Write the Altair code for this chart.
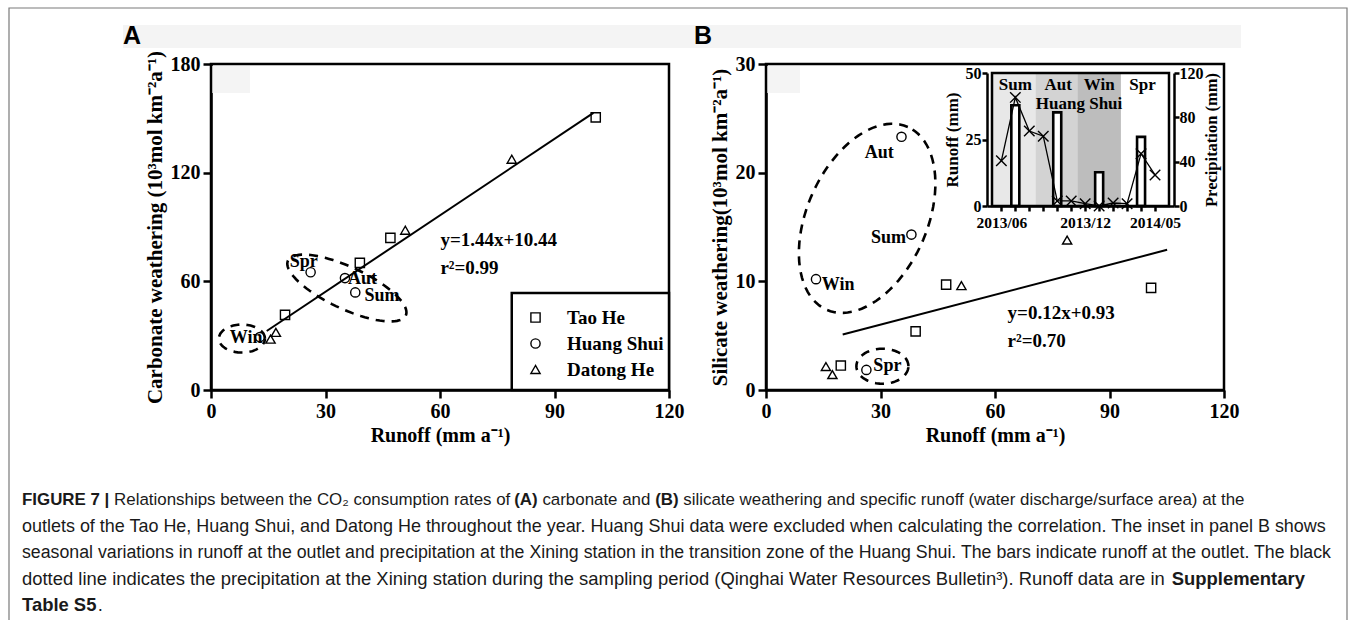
import altair as alt
import numpy as np
import pandas as pd

SERIF = "Liberation Serif"
SANS = "Liberation Sans"

# ---------------- data ----------------
rivers = ["Tao He", "Huang Shui", "Datong He"]
hs_seasons = ["Spr", "Aut", "Sum", "Win"]

# Panel A: carbonate weathering vs runoff
a_tao_runoff = [100.8, 47.0, 39.0, 19.4]
a_tao_carb = [150.5, 84.0, 70.2, 41.5]
a_hs_runoff = [26.1, 35.1, 37.8, 12.8]      # Spr, Aut, Sum, Win
a_hs_carb = [65.0, 61.8, 53.9, 29.2]
a_dt_runoff = [78.8, 50.9, 15.6, 17.0]
a_dt_carb = [127.4, 88.2, 28.1, 31.8]
a_fit_runoff = [14.6, 100.2]
a_fit_carb = [32.6, 153.0]
a_label_x = [24.3, 39.7, 44.8, 9.2]
a_label_y = [70.5, 61.3, 52.1, 28.6]
a_eq_text = ["y=1.44x+10.44", "r²=0.99"]
a_eq_x = [60.1, 60.1]
a_eq_y = [82.8, 67.4]
a_ell_cx = [35.6, 8.1]
a_ell_cy = [56.3, 28.4]
a_ell_rmaj = [65, 23]
a_ell_rmin = [21, 14]
a_ell_angle = [-25, 0]
a_legend_box = [78.8, 120, 0, 53.6]

# Panel B: silicate weathering vs runoff
b_tao_runoff = [100.9, 47.2, 39.2, 19.6]
b_tao_sil = [9.4, 9.7, 5.4, 2.25]
b_hs_runoff = [26.3, 35.5, 38.1, 13.1]      # Spr, Aut, Sum, Win
b_hs_sil = [1.85, 23.3, 14.3, 10.2]
b_dt_runoff = [78.9, 51.2, 15.7, 17.4]
b_dt_sil = [13.8, 9.6, 2.16, 1.42]
b_fit_runoff = [20.1, 105.1]
b_fit_sil = [5.1, 12.9]
b_label_x = [31.8, 29.7, 32.1, 18.9]
b_label_y = [2.2, 21.8, 14.0, 9.65]
b_eq_text = ["y=0.12x+0.93", "r²=0.70"]
b_eq_x = [63.3, 63.3]
b_eq_y = [7.1, 4.5]
b_ell_cx = [26.5, 30.5]
b_ell_cy = [15.8, 2.19]
b_ell_rmaj = [100, 26]
b_ell_rmin = [60, 17.5]
b_ell_angle = [66, 0]

# Inset: runoff bars and precipitation
month_labels = ["2013/06", "2013/07", "2013/08", "2013/09", "2013/10", "2013/11",
                "2013/12", "2014/01", "2014/02", "2014/03", "2014/04", "2014/05"]
month_idx = list(range(12))
shown_months = [0, 6, 11]
precip_mm = [40.8, 98.0, 67.6, 63.0, 4.6, 4.6, 2.1, 0.0, 2.7, 2.1, 47.2, 28.0]
bar_month = [1, 4, 7, 10]
bar_runoff = [37.9, 35.2, 12.7, 26.0]
season_names = ["Sum", "Aut", "Win", "Spr"]
season_start = [-0.67, 2.44, 5.44, 8.56]
season_end = [2.44, 5.44, 8.56, 12.0]
season_fill = ["#e8e8e8", "#d3d3d3", "#bdbdbd", "#ffffff"]
season_label_x = [1.0, 4.07, 7.0, 10.1]
season_label_y = [45.5, 45.5, 45.5, 45.5]
inset_title = "Huang Shui"
inset_title_x = 5.56
inset_title_y = 38.3

# ---------------- layout (pixel ranges of each plot) ----------------
W, H = 1355, 620
A_XR, A_YR = [211, 669], [390, 64]
B_XR, B_YR = [766, 1224], [390, 64]
I_XR, I_YR = [987, 1174], [206, 73]

sxA = alt.Scale(domain=[0, 120], range=A_XR, nice=False, zero=False)
syA = alt.Scale(domain=[0, 180], range=A_YR, nice=False, zero=False)
sxB = alt.Scale(domain=[0, 120], range=B_XR, nice=False, zero=False)
syB = alt.Scale(domain=[0, 30], range=B_YR, nice=False, zero=False)
sxI = alt.Scale(domain=[-0.67, 12.0], range=I_XR, nice=False, zero=False)
syIr = alt.Scale(domain=[0, 50], range=I_YR, nice=False, zero=False)
syIp = alt.Scale(domain=[0, 120], range=I_YR, nice=False, zero=False)


def axis(orient, offset, values, title, lsize=20, tsize=20, tick=8, width=2.5, **kw):
    return alt.Axis(orient=orient, offset=offset, values=values, title=title, grid=False,
                    domainColor="black", domainWidth=width, tickColor="black",
                    tickWidth=width, tickSize=tick, labelFont=SERIF, labelFontWeight="bold",
                    labelFontSize=lsize, labelColor="black", titleFont=SERIF,
                    titleFontWeight="bold", titleFontSize=tsize, titleColor="black",
                    labelFlush=False, labelOverlap=False, **kw)


axAx = axis("bottom", A_YR[0] - H, [0, 30, 60, 90, 120], "Runoff (mm a⁻¹)", labelPadding=3, titlePadding=4)
axAy = axis("left", -A_XR[0], [0, 60, 120, 180], "Carbonate weathering (10³mol km⁻²a⁻¹)", tsize=21,
            labelPadding=3, titlePadding=5)
axBx = axis("bottom", B_YR[0] - H, [0, 30, 60, 90, 120], "Runoff (mm a⁻¹)", labelPadding=3, titlePadding=4)
axBy = axis("left", -B_XR[0], [0, 10, 20, 30], "Silicate weathering(10³mol km⁻²a⁻¹)", tsize=21,
            labelPadding=3, titlePadding=5)
lab_expr = " : ".join(f"datum.value == {i} ? '{month_labels[i]}'" for i in shown_months) + " : ''"
axIx = axis("bottom", I_YR[0] - H, month_idx, None, lsize=15.5, tick=5, labelExpr=lab_expr, labelPadding=4)
axIr = axis("left", -I_XR[0], [0, 25, 50], "Runoff (mm)", lsize=16, tsize=17, tick=5, labelPadding=1, titlePadding=4)
axIp = axis("right", I_XR[1] - W, [0, 40, 80, 120], "Precipitation (mm)", lsize=16, tsize=16.5, tick=5,
            labelPadding=0, titlePadding=0, titleAngle=270, titleBaseline="top")


def points_df(xs, ys):
    rows = []
    for name, xv, yv in zip(rivers, xs, ys):
        for a, b in zip(xv, yv):
            rows.append({"x": a, "y": b, "river": name})
    return pd.DataFrame(rows)


def ellipse_df(cx, cy, rmaj, rmin, ang, xr, xd, yr, yd):
    px_x = (xr[1] - xr[0]) / (xd[1] - xd[0])
    px_y = (yr[0] - yr[1]) / (yd[1] - yd[0])
    rows = []
    t = np.linspace(0, 2 * np.pi, 91)
    for e, (a, b, c, d, g) in enumerate(zip(cx, cy, rmaj, rmin, ang)):
        th = np.radians(g)
        dx = c * np.cos(t) * np.cos(th) - d * np.sin(t) * np.sin(th)
        dy = c * np.cos(t) * np.sin(th) + d * np.sin(t) * np.cos(th)
        for k in range(len(t)):
            rows.append({"x": a + dx[k] / px_x, "y": b + dy[k] / px_y, "k": k, "e": e})
    return pd.DataFrame(rows)


shape_scale = alt.Scale(domain=rivers, range=["square", "circle", "triangle-up"])


def main_panel(pts, fitx, fity, ell, labx, laby, eqt, eqx, eqy, xs, ys, ax, ay, xmax, ymax, legend):
    X = lambda f: alt.X(f, scale=xs, axis=ax)
    Y = lambda f: alt.Y(f, scale=ys, axis=ay)
    frame = alt.Chart(pd.DataFrame({"x0": [0], "x1": [xmax], "y0": [0], "y1": [ymax]})).mark_rect(
        fill="transparent", stroke="black", strokeWidth=2.5).encode(
        x=X("x0:Q"), x2="x1:Q", y=Y("y0:Q"), y2="y1:Q")
    ellipse = alt.Chart(ell).mark_line(color="black", strokeWidth=2.6, strokeDash=[9, 7]).encode(
        x=X("x:Q"), y=Y("y:Q"), detail="e:N", order="k:Q")
    fit = alt.Chart(pd.DataFrame({"x": fitx, "y": fity})).mark_line(color="black", strokeWidth=2).encode(
        x=X("x:Q"), y=Y("y:Q"))
    points = alt.Chart(pts).mark_point(filled=False, color="black", size=85, strokeWidth=1.4, opacity=1).encode(
        x=X("x:Q"), y=Y("y:Q"), shape=alt.Shape("river:N", scale=shape_scale, legend=legend))
    labels = alt.Chart(pd.DataFrame({"x": labx, "y": laby, "t": hs_seasons})).mark_text(
        font=SERIF, fontWeight="bold", fontSize=18, color="black", align="center", baseline="middle").encode(
        x=X("x:Q"), y=Y("y:Q"), text="t:N")
    eq = alt.Chart(pd.DataFrame({"x": eqx, "y": eqy, "t": eqt})).mark_text(
        font=SERIF, fontWeight="bold", fontSize=19, color="black", align="left", baseline="middle").encode(
        x=X("x:Q"), y=Y("y:Q"), text="t:N")
    return [frame, ellipse, fit, points, labels, eq], X, Y


legendA = alt.Legend(orient="none", legendX=511, legendY=293, title=None, direction="vertical",
                     labelFont=SERIF, labelFontWeight="bold", labelFontSize=19, labelColor="black",
                     symbolSize=85, symbolStrokeColor="black", symbolStrokeWidth=1.4,
                     padding=15, rowPadding=6, labelOffset=22)

layersA, XA, YA = main_panel(points_df([a_tao_runoff, a_hs_runoff, a_dt_runoff], [a_tao_carb, a_hs_carb, a_dt_carb]),
                             a_fit_runoff, a_fit_carb,
                             ellipse_df(a_ell_cx, a_ell_cy, a_ell_rmaj, a_ell_rmin, a_ell_angle, A_XR, [0, 120], A_YR, [0, 180]),
                             a_label_x, a_label_y, a_eq_text, a_eq_x, a_eq_y, sxA, syA, axAx, axAy, 120, 180, legendA)
legbox = alt.Chart(pd.DataFrame({"x0": [a_legend_box[0]], "x1": [a_legend_box[1]],
                                 "y0": [a_legend_box[2]], "y1": [a_legend_box[3]]})).mark_rect(
    fill="white", stroke="black", strokeWidth=2.5).encode(x=XA("x0:Q"), x2="x1:Q", y=YA("y0:Q"), y2="y1:Q")
panelA = alt.layer(layersA[0], legbox, *layersA[1:])

layersB, XB, YB = main_panel(points_df([b_tao_runoff, b_hs_runoff, b_dt_runoff], [b_tao_sil, b_hs_sil, b_dt_sil]),
                             b_fit_runoff, b_fit_sil,
                             ellipse_df(b_ell_cx, b_ell_cy, b_ell_rmaj, b_ell_rmin, b_ell_angle, B_XR, [0, 120], B_YR, [0, 30]),
                             b_label_x, b_label_y, b_eq_text, b_eq_x, b_eq_y, sxB, syB, axBx, axBy, 120, 30, None)
panelB = alt.layer(*layersB)

# ---------------- inset ----------------
XI = lambda f: alt.X(f, scale=sxI, axis=axIx)
YR = lambda f: alt.Y(f, scale=syIr, axis=axIr)
YP = lambda f: alt.Y(f, scale=syIp, axis=axIp)

season_df = pd.DataFrame({"s": season_names, "x0": season_start, "x1": season_end,
                          "y0": [0] * 4, "y1": [50] * 4, "fill": season_fill})
bg = alt.Chart(season_df).mark_rect(strokeWidth=0).encode(
    x=XI("x0:Q"), x2="x1:Q", y=YR("y0:Q"), y2="y1:Q",
    fill=alt.Fill("fill:N", scale=None, legend=None))
bars = alt.Chart(pd.DataFrame({"m": bar_month, "r": bar_runoff})).mark_bar(
    size=8, fill="white", stroke="black", strokeWidth=2.6).encode(x=XI("m:Q"), y=YR("r:Q"))
stxt = alt.Chart(pd.DataFrame({"x": season_label_x + [inset_title_x], "y": season_label_y + [inset_title_y],
                               "t": season_names + [inset_title]})).mark_text(
    font=SERIF, fontWeight="bold", fontSize=17, color="black", align="center", baseline="middle").encode(
    x=XI("x:Q"), y=YR("y:Q"), text="t:N")
iframe = alt.Chart(pd.DataFrame({"x0": [-0.67], "x1": [12.0], "y0": [0], "y1": [50]})).mark_rect(
    fill="transparent", stroke="black", strokeWidth=2.5).encode(x=XI("x0:Q"), x2="x1:Q", y=YR("y0:Q"), y2="y1:Q")
inset_r = alt.layer(bg, bars, stxt, iframe)

pdf = pd.DataFrame({"m": month_idx, "p": precip_mm})
pline = alt.Chart(pdf).mark_line(color="black", strokeWidth=1.3).encode(x=XI("m:Q"), y=YP("p:Q"))
ppts = alt.Chart(pdf).mark_point(shape="M-1,-1L1,1M-1,1L1,-1", size=110, filled=False,
                                 color="black", strokeWidth=1.4, opacity=1).encode(x=XI("m:Q"), y=YP("p:Q"))
inset_p = alt.layer(pline, ppts)
inset = alt.layer(inset_r, inset_p).resolve_scale(y="independent")

# ---------------- decoration & caption (page layout in pixels) ----------------
PX = lambda f: alt.X(f, scale=None, axis=None)
PY = lambda f: alt.Y(f, scale=None, axis=None)

shade = alt.Chart(pd.DataFrame({"x0": [123, 212, 767], "x1": [1241, 250, 800],
                                "y0": [25, 66, 66], "y1": [48, 93, 93]})).mark_rect(
    color="#f4f4f4").encode(x=PX("x0:Q"), x2="x1:Q", y=PY("y0:Q"), y2="y1:Q")
border = alt.Chart(pd.DataFrame({"x0": [9], "x1": [1347], "y0": [8], "y1": [660]})).mark_rect(
    fill="transparent", stroke="#7a7a7a", strokeWidth=1.2).encode(x=PX("x0:Q"), x2="x1:Q", y=PY("y0:Q"), y2="y1:Q")
panel_tags = alt.Chart(pd.DataFrame({"t": ["A", "B"], "x": [123, 694], "y": [36, 36]})).mark_text(
    font=SANS, fontWeight="bold", fontSize=25, color="black", align="left", baseline="middle").encode(
    x=PX("x:Q"), y=PY("y:Q"), text="t:N")

REG = {}
for chars, w in [("ijl", 222), ("|", 260), (" .,/:;ftI!", 278), ("()-r₂³¹⁻", 333),
                 ("cksvxyzJ", 500), ("abdeghnopqu0123456789L", 556), ("+=<>", 584), ("FTZ", 611),
                 ("ABEKPSVXY", 667), ("CDHNRUw", 722), ("GOQ", 778), ("mM", 833), ("W", 944)]:
    for ch in chars:
        REG[ch] = w
BOLD = {}
for chars, w in [(" .,/:;iljI", 278), ("|", 280), ("()-ft", 333), ("r", 389), ("z", 500),
                 ("acesvxykJ0123456789", 556), ("bdghnopquFTZL", 611), ("EPSVXY", 667),
                 ("ABCDHKNRU", 722), ("GOQw", 778), ("M", 833), ("m", 889), ("W", 944)]:
    for ch in chars:
        BOLD[ch] = w


def em(s, bold):
    t = BOLD if bold else REG
    return sum(t.get(c, 556) for c in s) / 1000.0


cap_lines = [
    [("FIGURE 7 |", True), (" Relationships between the CO₂ consumption rates of ", False), ("(A)", True),
     (" carbonate and ", False), ("(B)", True),
     (" silicate weathering and specific runoff (water discharge/surface area) at the", False)],
    [("outlets of the Tao He, Huang Shui, and Datong He throughout the year. Huang Shui data were excluded "
      "when calculating the correlation. The inset in panel B shows", False)],
    [("seasonal variations in runoff at the outlet and precipitation at the Xining station in the transition "
      "zone of the Huang Shui. The bars indicate runoff at the outlet. The black", False)],
    [("dotted line indicates the precipitation at the Xining station during the sampling period (Qinghai Water "
      "Resources Bulletin³). Runoff data are in ", False), ("Supplementary", True)],
    [("Table S5", True), (".", False)],
]
cap_y = [500, 527, 553, 579, 605]
cap_end = [1245, 1330, 1333, 1305, None]
CAP_X0 = 22

rows = []
size = 17
for segs, y, end in zip(cap_lines, cap_y, cap_end):
    total = sum(em(s, b) for s, b in segs)
    if end is not None:
        size = (end - CAP_X0) / total
    pos = CAP_X0
    for s, b in segs:
        lead = len(s) - len(s.lstrip(" "))
        rows.append({"t": s.strip(" "), "x": pos + em(" " * lead, b) * size, "y": y, "fs": size, "b": b})
        pos += em(s, b) * size
cap_df = pd.DataFrame(rows)


def cap_layer(bold):
    return alt.Chart(cap_df[cap_df["b"] == bold]).mark_text(
        font=SANS, fontWeight="bold" if bold else "normal", color="#1a1a1a", align="left",
        baseline="middle").encode(x=PX("x:Q"), y=PY("y:Q"), text="t:N",
                                 size=alt.Size("fs:Q", scale=None, legend=None))


chart = alt.layer(shade, panelA, panelB, inset, panel_tags, cap_layer(False), cap_layer(True), border).resolve_scale(
    x="independent", y="independent", shape="independent", size="independent", fill="independent"
).properties(
    width=W, height=H, padding=0, autosize=alt.AutoSizeParams(type="none"), background="white"
).configure_view(stroke=None)

chart.save("out.html", embed_options={"renderer": "svg", "actions": False})
